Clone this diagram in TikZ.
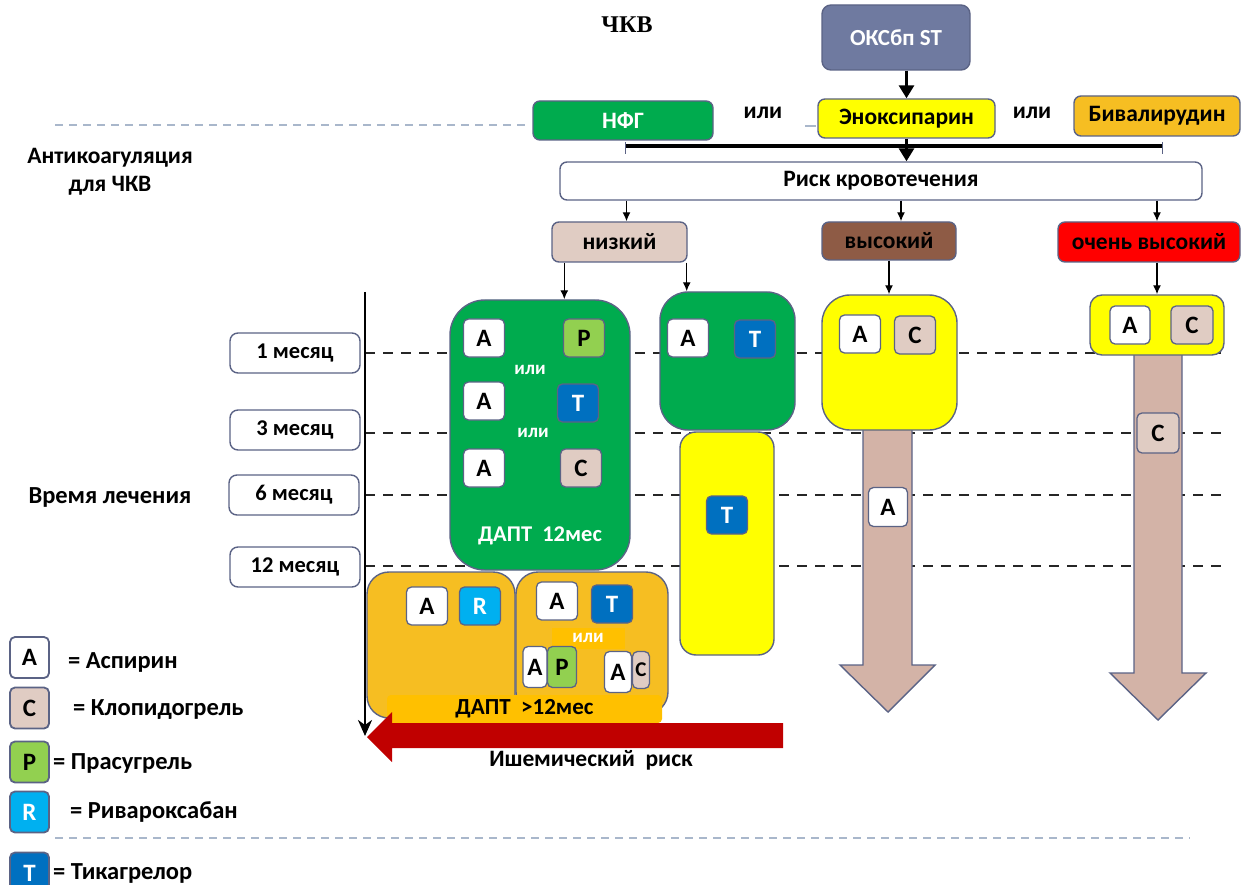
\documentclass[tikz,border=0pt]{standalone}
\usepackage{fontspec}
\setmainfont{Carlito}
\newfontfamily\serifbold{Liberation Serif}
\usetikzlibrary{arrows.meta,calc}
\newcommand\myfs[1]{\fontsize{#1}{#1}\selectfont\bfseries}
\definecolor{bord}{HTML}{5B6385}
\definecolor{slate}{HTML}{6F7AA0}
\definecolor{grn}{HTML}{00AB4E}
\definecolor{yel}{HTML}{FFFF00}
\definecolor{org}{HTML}{F6BE22}
\definecolor{band}{HTML}{FFC000}
\definecolor{beige}{HTML}{E0CCC3}
\definecolor{brn}{HTML}{8E5B45}
\definecolor{shaft}{HTML}{D3B3A7}
\definecolor{lgrn}{HTML}{92D050}
\definecolor{tblue}{HTML}{0070C0}
\definecolor{cyanr}{HTML}{00B0F0}
\definecolor{dred}{HTML}{C00000}
\definecolor{dashblue}{HTML}{A9B7CB}
\begin{document}
\begin{tikzpicture}[x=1pt,y=-1pt,
  bx/.style={draw=bord, line width=1.4pt, rounded corners=7pt, inner sep=0pt, align=center},
  lvl/.style={bx, font=\myfs{23.5}},
  pill/.style={draw=bord, line width=1.3pt, rounded corners=5pt, minimum width=41pt, minimum height=38pt, inner sep=0pt, font=\myfs{25}},
  lpill/.style={pill, line width=1.8pt, minimum width=39pt, minimum height=41pt},
  tlab/.style={bx, fill=white, minimum width=130pt, minimum height=40pt, rounded corners=8pt, font=\myfs{22.5}},
  tdash/.style={black!85, line width=2.2pt, dash pattern=on 10pt off 8pt},
  bdash/.style={dashblue, line width=1.5pt, dash pattern=on 8pt off 6pt},
  arr/.style={-{Latex[length=9pt,width=8pt]}, line width=1.4pt},
  bigarr/.style={-{Triangle[length=13pt,width=15pt]}, line width=3pt},
  txt/.style={inner sep=0pt, font=\myfs{23.5}},
  leg/.style={txt, anchor=west, font=\myfs{24.5}},
  wtxt/.style={txt, text=white, font=\myfs{19}}
]
\useasboundingbox (0,0) rectangle (1245,885);
\clip (0,0) rectangle (1245,885);

% title fragment
\node[inner sep=0pt, font=\serifbold\fontsize{24}{24}\selectfont\bfseries] (title) at (627,25) {ЧКВ};

% blue-grey separator lines
\coordinate (s1a) at (55,125); \coordinate (s1b) at (530,125);
\coordinate (s1c) at (805,126); \coordinate (s1d) at (816,126);
\coordinate (s2a) at (55,838); \coordinate (s2b) at (1190,838);
\draw[bdash] (s1a) -- (s1b);
\draw[dashblue, line width=1.5pt] (s1c) -- (s1d);
\draw[bdash] (s2a) -- (s2b);

% top part
\node[bx, fill=slate, text=white, minimum width=148pt, minimum height=65pt, rounded corners=9pt, font=\myfs{23}] (oks) at (896,37.5) {ОКСбп ST};
\node[lvl, fill=grn, text=white, minimum width=180pt, minimum height=39pt] (nfg) at (623,120.5) {НФГ};
\node[txt] (ili1) at (763,113) {или};
\node[lvl, fill=yel, minimum width=177pt, minimum height=39pt] (eno) at (906.5,118.5) {Эноксипарин};
\node[txt] (ili2) at (1032,113) {или};
\node[lvl, fill=org, minimum width=166pt, minimum height=40pt] (biv) at (1157,116) {Бивалирудин};

\coordinate (brL) at (625,146); \coordinate (brR) at (1162,146);
\draw[line width=4pt] (brL) -- (brR);
\draw[line width=1pt, bord] ($(brL)+(0,-4)$) -- ($(brL)+(0,8)$);
\draw[line width=1pt, bord] ($(brR)+(0,-4)$) -- ($(brR)+(0,8)$);

\node[lvl, fill=white, minimum width=642pt, minimum height=38pt] (risk) at (881,181) {Риск кровотечения};
\draw[bigarr] (oks.south -| eno.north) -- (eno.north);
\draw[bigarr] (eno.south) -- (eno.south |- risk.north);

\node[lvl, fill=beige, minimum width=135pt, minimum height=40pt] (low) at (619.5,242) {низкий};
\node[lvl, fill=brn, minimum width=134pt, minimum height=38pt] (high) at (889,241) {высокий};
\node[lvl, fill=red, minimum width=182pt, minimum height=40pt] (vhigh) at (1149,242) {очень высокий};
\draw[arr] ([xshift=7pt]risk.south -| low.north) -- ([xshift=7pt]low.north);
\draw[arr] ([xshift=12pt]risk.south -| high.north) -- ([xshift=12pt]high.north);
\draw[arr] ([xshift=8pt]risk.south -| vhigh.north) -- ([xshift=8pt]vhigh.north);

% left labels
\node[txt, align=center, font=\fontsize{23.5}{28}\selectfont\bfseries] (antico) at (110,172) {Антикоагуляция\\для ЧКВ};
\node[txt, font=\myfs{24.5}] (vremya) at (110,497) {Время лечения};

% time labels
\node[tlab] (m1) at (295,353) {1 месяц};
\node[tlab] (m3) at (295,430) {3 месяц};
\node[tlab] (m6) at (294,495) {6 месяц};
\node[tlab] (m12) at (295,567) {12 месяц};

% dashed time lines
\coordinate (ax) at (365,300);
\draw[tdash] (m1.east -| ax) -- ++(860,0);
\draw[tdash] (m3.east -| ax) ++(0,3) -- ++(860,0);
\draw[tdash] (m6.east -| ax) -- ++(860,0);
\draw[tdash] (m12.east -| ax) ++(0,-1) -- ++(860,0);

% low risk: green boxes
\node[bx, fill=grn, minimum width=180pt, minimum height=270pt, rounded corners=35pt] (g1) at (540,435) {};
\node[pill, fill=white] (a1) at (484,338) {A};
\node[pill, fill=lgrn] (p1) at (584,338) {P};
\node[wtxt] (o1) at (530,370) {или};
\node[pill, fill=white] (a2) at (484,401) {A};
\node[pill, fill=tblue, text=white] (t1) at (578,403) {T};
\node[wtxt] (o2) at (533,433) {или};
\node[pill, fill=white] (a3) at (484,468) {A};
\node[pill, fill=beige] (c1) at (581,468) {C};
\node[wtxt, font=\myfs{22.5}] (dapt) at (540,536) {ДАПТ\ \ 12мес};

\node[bx, fill=grn, minimum width=135pt, minimum height=138pt, rounded corners=28pt] (g2) at (727.5,361) {};
\node[pill, fill=white] (a4) at (688,338) {A};
\node[pill, fill=tblue, text=white] (t2) at (755,339) {T};

\node[bx, fill=yel, minimum width=94pt, minimum height=223pt, rounded corners=16pt] (y1) at (727,543.5) {};
\node[pill, fill=tblue, text=white] (t3) at (727,515) {T};

\draw[arr] ([xshift=13pt]low.south west) -- ([xshift=13pt]low.south west |- g1.north);
\draw[arr] ([xshift=-1pt]low.south east) -- ([xshift=-1pt]low.south east |- g2.north);

% high risk
\draw[draw=bord, line width=1.4pt, fill=shaft] (863,425) -- (863,665) -- (840,665) -- (888,712) -- (935,665) -- (912,665) -- (912,425) -- cycle;
\node[bx, fill=yel, minimum width=135pt, minimum height=135pt, rounded corners=28pt] (yh) at (889.5,362.5) {};
\node[pill, fill=white] (a5) at (860,334) {A};
\node[pill, fill=beige] (c2) at (915,335) {C};
\node[pill, fill=white, minimum width=39pt, minimum height=39pt] (a6) at (888,507) {A};
\draw[arr] (high.south) -- (high.south |- yh.north);

% very high risk
\draw[draw=bord, line width=1.4pt, fill=shaft] (1134,350) -- (1134,673) -- (1110,673) -- (1158,720) -- (1206,673) -- (1182,673) -- (1182,350) -- cycle;
\node[bx, fill=yel, minimum width=134pt, minimum height=60pt, rounded corners=12pt] (yv) at (1157,325) {};
\node[pill, fill=white, minimum width=40pt] (a7) at (1130,325) {A};
\node[pill, fill=beige, minimum width=42pt] (c3) at (1192,325) {C};
\node[pill, fill=beige, minimum width=42pt, minimum height=40pt] (c4) at (1158,433) {C};
\draw[arr] (vhigh.south -| yv.north) -- (yv.north);

% orange DAPT > 12
\node[bx, fill=org, minimum width=148pt, minimum height=146pt, rounded corners=22pt] (oL) at (441,645) {};
\node[bx, fill=org, minimum width=152pt, minimum height=142pt, rounded corners=22pt] (oR) at (592,643) {};
\node[pill, fill=white] (a8) at (427,606) {A};
\node[pill, fill=cyanr, text=white] (r1) at (480,606) {R};
\node[pill, fill=white] (a9) at (557,601) {A};
\node[pill, fill=tblue, text=white] (t4) at (612,604) {T};
\node[fill=band, text=white, inner sep=0pt, minimum width=73pt, minimum height=21pt, font=\myfs{19}] (o3) at (588,638) {или};
\node[pill, fill=white, minimum width=24pt, minimum height=41pt] (a10) at (535,667) {A};
\node[pill, fill=lgrn, minimum width=29pt, minimum height=41pt] (p2) at (562,667) {P};
\node[pill, fill=white, minimum width=27pt, minimum height=41pt] (a11) at (618,672) {A};
\node[pill, fill=beige, minimum width=17pt, minimum height=37pt, font=\myfs{21}] (c5) at (641,670) {C};
\node[fill=band, inner sep=0pt, minimum width=275pt, minimum height=28pt, rounded corners=4pt, font=\myfs{23}] (dapt2) at (524.5,709) {ДАПТ\ \ >12мес};

% time axis
\coordinate (axT) at (365,292); \coordinate (axB) at (365,736);
\draw[line width=2.6pt, -{Stealth[length=16pt,width=14pt,inset=5pt]}] (axT) -- (axB);

% ischemic risk arrow
\fill[dred] (783,723) -- (392,723) -- (392,712) -- (367,737) -- (392,762) -- (392,748) -- (783,748) -- cycle;
\node[txt] (isch) at (591,760) {Ишемический\ \ риск};

% legend
\node[lpill, fill=white] (lA) at (29.5,657.5) {A};
\node[leg] (lAt) at (68,662) {= Аспирин};
\node[lpill, fill=beige] (lC) at (29.5,708) {C};
\node[leg] (lCt) at (73,710) {= Клопидогрель};
\node[lpill, fill=lgrn] (lP) at (29.5,762) {P};
\node[leg] (lPt) at (53,763) {= Прасугрель};
\node[lpill, fill=cyanr, text=white] (lR) at (29.5,812) {R};
\node[leg] (lRt) at (70,812) {= Ривароксабан};
\node[lpill, fill=tblue, text=white] (lT) at (29.5,873) {T};
\node[leg] (lTt) at (53,873) {= Тикагрелор};
\end{tikzpicture}
\end{document}
